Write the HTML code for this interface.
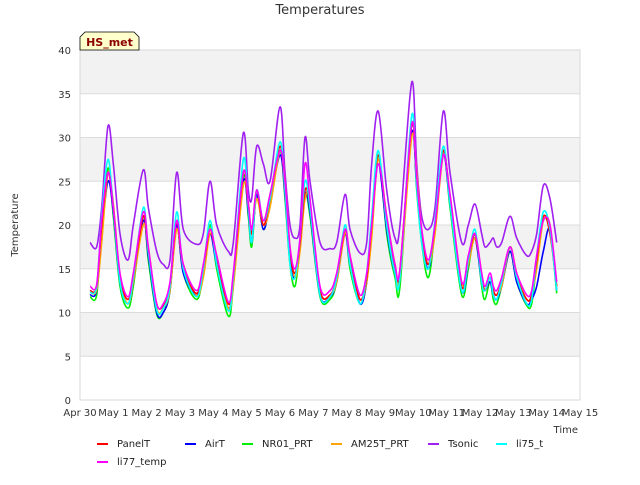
<!DOCTYPE html>
<html><head><meta charset="utf-8"><style>
body{margin:0;background:#fff;}
svg text{font-family:"DejaVu Sans","Liberation Sans",sans-serif;}
</style></head><body>
<svg id="chart" width="640" height="480" viewBox="0 0 640 480" xmlns="http://www.w3.org/2000/svg">
<rect width="640" height="480" fill="#fff"/>
<g id="bands"></g>
<g id="grid"></g>
<rect x="80" y="50" width="500" height="350" fill="none" stroke="#d8d8d8"/>
<g id="yticks"></g>
<g id="xticks"></g>
<g id="series"></g>
<text x="320" y="14" font-size="13" text-anchor="middle" fill="#333">Temperatures</text>
<text x="18" y="225" font-size="10" text-anchor="middle" fill="#333" transform="rotate(-90 18 225)">Temperature</text>
<text x="578" y="433" font-size="10" text-anchor="end" fill="#333">Time</text>
<g>
<path d="M80,50 L80,37 L85,32 L134,32 L139,37 L139,50 Z" fill="#ffffcc" stroke="#000" stroke-width="0.8"/>
<text x="109.5" y="46" font-size="11" font-weight="bold" text-anchor="middle" fill="#8b0000">HS_met</text>
</g>
<g id="legend"></g>
</svg>
<script>
const xTickLabels=["Apr 30","May 1","May 2","May 3","May 4","May 5","May 6","May 7","May 8","May 9","May 10","May 11","May 12","May 13","May 14","May 15"];
const yTickLabels=[0,5,10,15,20,25,30,35,40];
const seriesNames=["PanelT","AirT","NR01_PRT","AM25T_PRT","Tsonic","li75_t","li77_temp"];
const seriesColors=["#ff0000","#0000ff","#00ee00","#ffa500","#a020f0","#00ffff","#ff00ff"];
const times=[0.3,0.5,0.65,0.84,1.0,1.2,1.44,1.6,1.9,2.05,2.3,2.5,2.7,2.9,3.1,3.5,3.7,3.9,4.1,4.45,4.6,4.9,5.05,5.15,5.3,5.5,5.7,6.0,6.15,6.3,6.45,6.6,6.75,6.9,7.2,7.5,7.7,7.95,8.1,8.4,8.6,8.75,8.95,9.2,9.45,9.6,9.95,10.1,10.25,10.45,10.65,10.9,11.1,11.45,11.65,11.85,12.05,12.15,12.3,12.4,12.5,12.65,12.9,13.1,13.4,13.55,13.7,13.9,14.1,14.3];
const panelT=[12.5,13,20,26,22,14,11.5,14,21,17,11,10.8,13,20.5,15,12.2,15,19.5,16,11,14,26,22,19,24,20,23,29,24,17,14.5,18,24,22,12.5,12,14,19.5,16,11.5,14,20,28,20,15,15,31.5,25,19,15.5,20,28.5,23,13,16,19,14,12.5,14,12.5,12,13.5,17.5,14,11.5,12,16,21,19,13];
const airT=[12,12.5,19,25,21.5,13.5,11,13.5,20.5,16.5,10,10,12.5,20,14.5,12,14.5,19,15.5,10.5,13.5,25,21.5,18,23.5,19.5,22.5,28,23.5,16,14,17.5,23.5,21.5,12,11.8,13.5,19,15.5,11,13.5,19.5,27,19.5,14.5,14.5,30.5,24.5,18.5,15,19.5,28,22.5,12.5,15.5,18.5,13.5,12.5,13.5,12,11.5,13,17,13.5,11,11.5,13,17,19.5,12.5];
const nr01=[11.8,12,19.5,26.5,21,13,10.5,13,21,16,9.8,10,12.5,20.5,14.5,11.5,14.5,20,15,9.6,13,25.5,21,17.5,23.5,19.5,22.5,28.5,23,15.5,13,17.5,23.5,21,11.8,11.5,13.5,19.5,15,11,13.5,20,28,19,14,13,31.5,24,18,14,19.5,28.5,22,12,15,19,13,11.5,13.5,11.5,11,13,17,13.5,10.8,11,15.5,20.5,19.5,12.2];
const am25t=[12.3,12.6,18,26,22.5,14,11,13.5,20,17.5,10.5,10.5,12.5,19.5,15.5,12,14,19,16.5,10.5,13,24.5,22.5,19,23,20,22,28.5,25,17.5,14,17,23,22.5,12.5,12,13.5,19,16.5,11.5,13.5,18.5,27.5,21,15.5,14,30,26,19.5,15.5,19,28,23.5,13.5,15.5,18.5,14.5,12.5,14,12.5,12,13,17.5,14.5,11.5,12,15,20.5,20,13];
const tsonic=[18,17.5,22,31.3,27,19,16,20,26.3,22,17,15.5,16,26,19.5,17.8,19,25,20,17,18,30.5,24,23,29,27,25,33.5,26,20,18.5,20,30,25,18,17.3,18,23.5,19.5,16.8,18,27,33,24,18.5,20,36.3,27,21,19.5,22,33,26,18,20,22.4,19,17.5,18,18.5,17.5,18,21,18.5,16.5,17,19,24.5,23,18];
const li75=[12.3,13,21,27.5,22,13.5,11,14,22,17,10.3,10.5,13,21.5,15,11.8,15,20.5,15.5,10.2,14,27.5,22,18,24,20.5,23,29.5,24,15.5,14,18.5,25,22,12,11.8,14,20,15.5,11,14.5,21,28.5,20,14.5,14,32.5,24.5,18,15,20.5,29,22.5,12.5,16,19.5,13.5,12.5,14,12,11.5,13.5,17.5,14,11,11.5,16.5,21.5,19.5,12.5];
const li77=[13,13.2,20.5,26,22,14.5,11.8,14.5,21.5,17.5,11,11,13.5,20.5,15.5,12.5,15.5,19.5,16.5,11.2,14.5,26,22.5,19.5,24,20.5,23.5,28.5,25,17.5,15,18.5,27,23,13,12.5,14.5,19.5,16.5,12,14.5,20,27,21,15.5,15,31.5,25.5,19.5,16,20,28,23.5,13.5,16.5,19,14.5,13,14.5,13,12.5,14,17.5,14.5,12,12.5,16.5,20.5,20,13.5];
const seriesData=[panelT,airT,nr01,am25t,tsonic,li75,li77];

const NS="http://www.w3.org/2000/svg";
const X0=80,X1=580,Y0=400,Y1=50,XMAX=15,YMAX=40;
function xs(d){return X0+(X1-X0)*d/XMAX;}
function ys(v){return Y0-(Y0-Y1)*v/YMAX;}
function mk(tag,attrs,parent){const e=document.createElementNS(NS,tag);for(const k in attrs)e.setAttribute(k,attrs[k]);parent.appendChild(e);return e;}
function smoothPath(pts){
  let d='M'+pts[0][0].toFixed(1)+','+pts[0][1].toFixed(1);
  for(let i=0;i<pts.length-1;i++){
    const p0=pts[Math.max(0,i-1)],p1=pts[i],p2=pts[i+1],p3=pts[Math.min(pts.length-1,i+2)];
    const c1x=p1[0]+(p2[0]-p0[0])/6,c1y=p1[1]+(p2[1]-p0[1])/6;
    const c2x=p2[0]-(p3[0]-p1[0])/6,c2y=p2[1]-(p3[1]-p1[1])/6;
    d+=' C'+c1x.toFixed(1)+','+c1y.toFixed(1)+' '+c2x.toFixed(1)+','+c2y.toFixed(1)+' '+p2[0].toFixed(1)+','+p2[1].toFixed(1);
  }
  return d;
}
const bands=document.getElementById('bands'),grid=document.getElementById('grid'),yt=document.getElementById('yticks'),xt=document.getElementById('xticks');
for(let i=0;i<yTickLabels.length-1;i++){
  if(i%2===1){const r=mk('rect',{x:X0,y:ys(yTickLabels[i+1]),width:X1-X0,height:ys(yTickLabels[i])-ys(yTickLabels[i+1]),fill:'#f2f2f2'},bands);
  
  }
}
yTickLabels.forEach(v=>{
  const l=mk('line',{x1:X0,x2:X1,y1:ys(v),y2:ys(v),stroke:'#dcdcdc','stroke-width':1},grid);
  
  
  const t=mk('text',{x:X0-9,y:ys(v)+4,'font-size':10,'text-anchor':'end',fill:'#333'},yt);
  
  
  t.textContent=v;
});
xTickLabels.forEach((s,i)=>{
  const t=mk('text',{x:xs(i),y:416,'font-size':10,'text-anchor':'middle',fill:'#333'},xt);
  
  
  t.textContent=s;
});
const sg=document.getElementById('series');
const order=[4,2,1,3,0,5,6];
order.forEach(k=>{
  const pts=seriesData[k].map((v,i)=>[xs(times[i]),ys(v)]);
  const p=mk('path',{d:smoothPath(pts),fill:'none',stroke:seriesColors[k],'stroke-width':1.6,'stroke-linejoin':'round'},sg);
  
  
});
const lg=document.getElementById('legend');
const lx=[97,185,242,331,428,496,97],ly=[443,443,443,443,443,443,461];
seriesNames.forEach((n,k)=>{
  const g=mk('g',{},lg);
  
  
  mk('line',{x1:lx[k],x2:lx[k]+11,y1:ly[k]+1,y2:ly[k]+1,stroke:seriesColors[k],'stroke-width':2},g);
  const t=mk('text',{x:lx[k]+20,y:ly[k]+4,'font-size':10,fill:'#222'},g);
  t.textContent=n;
});
</script>
</body></html>
